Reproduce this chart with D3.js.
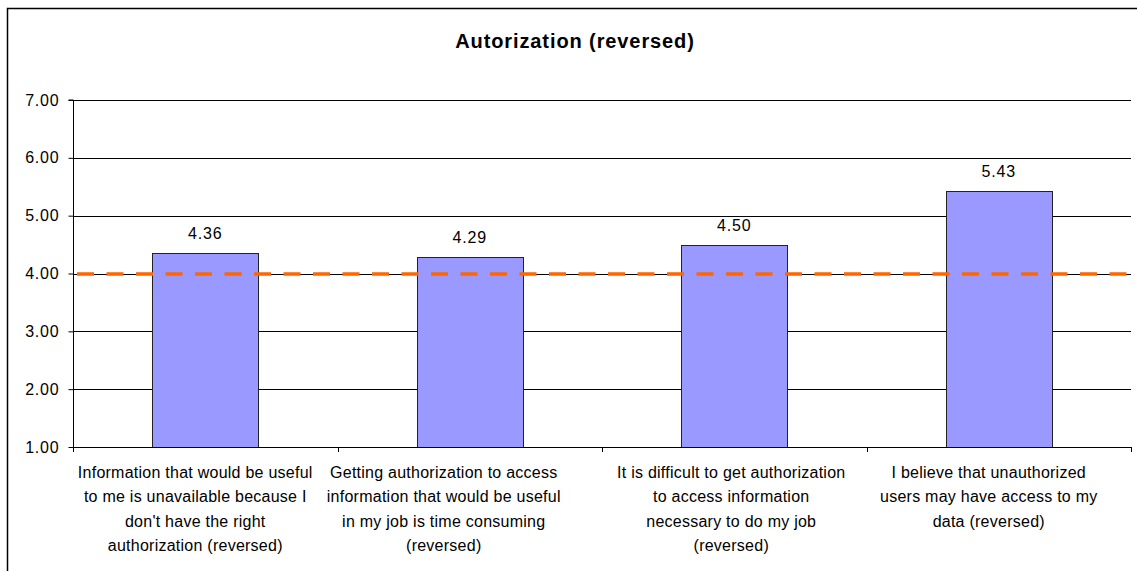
<!DOCTYPE html>
<html><head><meta charset="utf-8">
<script src="https://cdn.jsdelivr.net/npm/d3@7"></script>
<style>body{margin:0;background:#fff}svg{display:block;font-family:"Liberation Sans",Arial,sans-serif}</style>
</head><body>
<svg id="c" width="1137" height="571"></svg>
<script>
const title = "Autorization (reversed)";
const categories = [
  ["Information that would be useful","to me is unavailable because I","don't have the right","authorization (reversed)"],
  ["Getting authorization to access","information that would be useful","in my job is time consuming","(reversed)"],
  ["It is difficult to get authorization","to access information","necessary to do my job","(reversed)"],
  ["I believe that unauthorized","users may have access to my","data (reversed)"]
];
const values = [4.36, 4.29, 4.50, 5.43];
const yTicks = [1, 2, 3, 4, 5, 6, 7];
const reference = 4.0;

// layout: horizontal nudge of each category label (px), as placed in the original
const labelDx = [-10, -26, -3, -10];

const svg = d3.select("#c");
const L = 73, R = 1131, T = 100, B = 447;
const x = d3.scaleBand().domain(d3.range(values.length)).range([L, R]).paddingInner(0).paddingOuter(0);
const y = d3.scaleLinear().domain([1, 7]).range([B, T]);

// frame
svg.append("rect").attr("x", 7.5).attr("y", 8.5).attr("width", 1200).attr("height", 600)
  .attr("fill", "none").attr("stroke", "#000").attr("stroke-width", 1.5);

svg.append("text").attr("x", 575).attr("y", 48).attr("text-anchor", "middle")
  .attr("font-size", 20).attr("letter-spacing", 0.9).attr("font-weight", "bold").text(title);

// gridlines
svg.append("g").selectAll("line").data(yTicks.slice(1)).join("line")
  .attr("x1", L).attr("x2", R).attr("y1", d => Math.round(y(d)) + 0.5).attr("y2", d => Math.round(y(d)) + 0.5)
  .attr("stroke", "#000").attr("stroke-width", 1);

// y axis
const ya = svg.append("g").attr("transform", `translate(${L + 0.5},0)`)
  .call(d3.axisLeft(y).tickValues(yTicks).tickFormat(d3.format(".2f")).tickSize(5).tickPadding(9));
ya.selectAll("text").attr("font-size", 16).attr("letter-spacing", 0.8).attr("fill", "#000")
  .attr("font-family", "Liberation Sans, Arial, sans-serif");
ya.selectAll("line,path").attr("stroke", "#000");
ya.select(".domain").attr("d", `M-5,${T}H0V${B}`);

// bars
const bw = x.bandwidth() * 0.4;
svg.append("g").selectAll("rect").data(values).join("rect")
  .attr("x", (d, i) => Math.round(x(i) + x.bandwidth() / 2 - bw / 2) + 0.5)
  .attr("width", Math.round(bw))
  .attr("y", d => Math.round(y(d)) + 0.5)
  .attr("height", d => B - Math.round(y(d)))
  .attr("fill", "#9999FF").attr("stroke", "#222").attr("stroke-width", 1);

// value labels
svg.append("g").selectAll("text").data(values).join("text")
  .attr("x", (d, i) => x(i) + x.bandwidth() / 2)
  .attr("y", d => y(d) - 14)
  .attr("text-anchor", "middle").attr("font-size", 16).attr("letter-spacing", 0.8).text(d => d.toFixed(2));

// x axis
svg.append("line").attr("x1", L).attr("x2", R).attr("y1", B + 0.5).attr("y2", B + 0.5).attr("stroke", "#000");
svg.append("g").selectAll("line").data(d3.range(values.length + 1)).join("line")
  .attr("x1", i => Math.round(L + i * x.bandwidth()) + 0.5).attr("x2", i => Math.round(L + i * x.bandwidth()) + 0.5)
  .attr("y1", B).attr("y2", B + 5).attr("stroke", "#000");

// category labels
const cl = svg.append("g").selectAll("text").data(categories).join("text")
  .attr("text-anchor", "middle").attr("font-size", 16).attr("letter-spacing", 0.25);
cl.each(function(lines, i) {
  d3.select(this).selectAll("tspan").data(lines).join("tspan")
    .attr("x", x(i) + x.bandwidth() / 2 + labelDx[i])
    .attr("y", (d, j) => 478 + j * 24.3)
    .text(d => d);
});

// reference dashed line
svg.append("line").attr("x1", L + 4).attr("x2", R - 2)
  .attr("y1", y(reference) + 0.5).attr("y2", y(reference) + 0.5)
  .attr("stroke", "#FF6600").attr("stroke-width", 3.5).attr("stroke-dasharray", "17,12.5");
</script>
</body></html>
